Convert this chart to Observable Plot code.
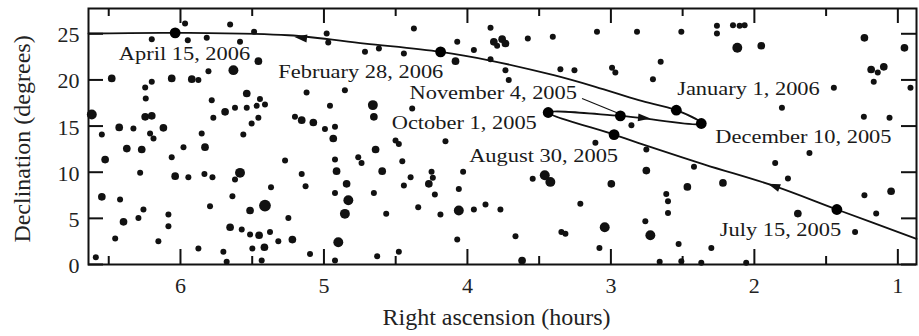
<!DOCTYPE html>
<html>
<head>
<meta charset="utf-8">
<script src="https://cdn.jsdelivr.net/npm/d3@7"></script>
<script src="https://cdn.jsdelivr.net/npm/@observablehq/plot@0.6"></script>
<style>
  html, body { margin: 0; padding: 0; background: #fff; }
</style>
</head>
<body>
<div id="chart"></div>
<script>
// ---- Mars path (right ascension in hours, declination in degrees), chronological ----
const pathRA  = [0.87, 1.425, 1.859, 2.347, 2.811, 2.978, 3.437, 2.934, 2.370, 2.544, 2.806, 3.108, 3.398, 3.850, 4.187, 4.714, 5.248, 6.037, 6.641];
const pathDec = [2.78, 5.96, 8.49, 10.83, 13.18, 14.08, 16.47, 16.11, 15.28, 16.72, 17.80, 19.25, 20.51, 22.13, 23.04, 23.94, 24.84, 25.10, 25.03];

// ---- Dated positions of Mars ----
const dateNames = ["July 15, 2005", "August 30, 2005", "October 1, 2005", "November 4, 2005",
                   "December 10, 2005", "January 1, 2006", "February 28, 2006", "April 15, 2006"];
const dateRA   = [1.425, 2.978, 3.437, 2.934, 2.370, 2.544, 4.187, 6.037];
const dateDec  = [5.96, 14.08, 16.47, 16.11, 15.28, 16.72, 23.04, 25.10];
const labelRA  = [1.818, 3.469, 4.022, 3.820, 1.658, 2.041, 4.743, 5.972];
const labelDec = [3.79, 11.81, 15.38, 18.63, 13.87, 19.01, 20.91, 22.86];

// leader line from the "November 4, 2005" label to its dot
const leaderRA  = [3.201, 2.945];
const leaderDec = [17.98, 16.36];

// direction arrows along the path
const arrowRA  = [5.155, 2.774, 1.859];
const arrowDec = [24.56, 15.89, 8.48];

// ---- Background stars: RA, Dec, brightness class (1 faint .. 4 bright) ----
const starRA = [
  6.200, 5.949, 5.817, 5.654, 5.968, 5.585, 5.487, 5.457, 5.631, 5.805, 6.479, 6.200, 6.246, 6.061, 5.921, 5.875,
  5.538, 5.446, 5.469, 5.411, 5.782, 5.689, 5.620, 5.538, 5.771, 5.504, 5.457, 6.242, 6.246, 6.200, 6.427, 6.328,
  6.212, 6.119, 6.548, 5.852, 5.121, 4.854, 4.958, 5.202, 5.155, 5.074, 4.993, 4.923, 4.981, 4.970, 4.714, 6.618,
  4.373, 3.839, 3.816, 3.758, 3.735, 3.793, 3.579, 3.405, 3.097, 2.818, 4.071, 3.955, 4.617, 4.443, 4.083, 3.839,
  3.735, 3.712, 3.352, 3.254, 2.992, 2.969, 4.659, 4.652, 4.385, 2.857,
  2.509, 2.261, 2.261, 2.149, 2.103, 2.068, 2.119, 1.952, 2.653, 2.707, 1.233, 0.954, 1.186, 1.140, 1.098, 1.168,
  1.446, 0.912, 1.808, 1.237, 1.058,
  6.188, 5.562, 4.935, 6.374, 6.270, 5.979, 5.829, 6.525, 6.061, 5.271, 4.923, 4.761, 4.738, 6.281, 6.037, 5.945,
  5.833, 5.777, 5.585, 5.620, 5.155, 4.912, 5.369, 5.128, 4.842, 6.548, 6.421, 5.638, 4.923, 5.411, 5.794, 5.515,
  4.830, 6.258, 4.854, 6.084, 6.293, 6.397, 6.084, 5.248, 5.654, 5.573, 5.515, 5.452, 5.376, 6.455, 6.154, 5.318,
  5.220, 4.900, 5.875, 5.701, 5.499, 5.415, 5.097, 6.590, 5.678, 5.434, 4.923,
  4.501, 4.478, 4.153, 4.640, 4.454, 4.594, 4.396, 4.250, 4.241, 4.443, 4.269, 4.227, 4.030, 4.060, 4.652, 3.545,
  3.461, 3.422, 3.108, 2.997, 4.566, 4.343, 4.188, 4.060, 3.955, 3.874, 3.770, 3.213, 3.043, 3.345, 3.317, 4.071,
  3.665, 3.080, 4.629, 4.478, 3.619,
  2.753, 2.753, 2.421, 2.467, 2.219, 1.855, 1.616, 1.766, 2.614, 2.602, 2.602, 1.697, 1.233, 1.047, 1.151, 2.760,
  2.725, 2.528, 2.300, 1.298, 2.660, 2.509, 2.370, 2.057
];
const starDec = [
  24.42, 24.31, 24.56, 26.01, 26.12, 24.13, 25.21, 22.03, 21.06, 20.95, 20.16, 19.79, 19.18, 20.16, 20.08, 19.98,
  18.53, 17.92, 17.19, 17.34, 17.81, 16.54, 16.98, 16.98, 15.89, 15.28, 15.89, 17.99, 16.00, 16.11, 14.85, 14.74,
  14.20, 14.81, 14.09, 14.20, 18.64, 18.89, 17.19, 16.00, 15.64, 15.39, 14.67, 14.92, 25.03, 24.06, 23.05, 16.26,
  25.57, 25.65, 24.13, 24.42, 23.95, 23.70, 24.49, 24.67, 25.21, 25.21, 24.13, 23.23, 23.41, 22.87, 22.03, 22.25,
  21.06, 19.98, 21.17, 21.06, 21.31, 20.81, 17.27, 16.00, 16.91, 15.10,
  25.21, 25.86, 25.03, 25.93, 25.86, 25.93, 23.48, 23.70, 21.96, 20.08, 24.56, 23.48, 21.13, 20.81, 21.42, 19.79,
  19.15, 19.15, 16.98, 16.00, 15.89,
  13.65, 14.08, 13.65, 12.56, 12.46, 12.71, 12.71, 11.37, 11.62, 11.26, 11.37, 11.62, 11.01, 9.93, 9.57, 9.46,
  9.82, 9.46, 9.93, 9.20, 9.82, 10.11, 8.37, 8.48, 8.74, 7.33, 7.04, 7.40, 7.76, 6.39, 6.32, 5.85,
  6.97, 5.95, 5.49, 5.41, 5.05, 4.62, 4.15, 5.05, 4.04, 3.79, 3.25, 3.17, 3.53, 2.81, 2.52, 2.52,
  2.70, 2.41, 1.73, 1.37, 1.73, 1.87, 1.15, 0.79, 0.29, 0.43, 0.43,
  13.43, 13.07, 13.36, 12.46, 11.19, 10.11, 9.46, 10.04, 9.39, 8.55, 8.74, 7.58, 10.04, 8.19, 7.76, 9.28,
  9.67, 8.95, 13.18, 8.74, 5.49, 6.21, 5.41, 5.85, 5.95, 6.50, 5.95, 6.57, 4.04, 3.53, 3.32, 2.70,
  3.07, 1.80, 0.90, 1.37, 0.43,
  12.46, 10.18, 10.58, 8.41, 8.84, 11.01, 12.09, 9.31, 7.65, 6.86, 5.59, 5.52, 7.51, 7.94, 5.52, 4.69,
  3.17, 2.23, 1.80, 3.53, 0.29, 0.36, 0.18, 0.18
];
const starClass = [
  1, 1, 1, 1, 1, 1, 1, 2, 3, 1, 2, 1, 1, 2, 2, 1,
  2, 1, 1, 1, 1, 2, 1, 1, 1, 1, 1, 1, 2, 2, 2, 1,
  1, 2, 1, 1, 1, 1, 1, 1, 2, 2, 1, 1, 1, 1, 1, 3,
  1, 1, 2, 2, 2, 1, 1, 1, 1, 1, 1, 1, 1, 1, 2, 1,
  1, 1, 1, 1, 1, 1, 3, 2, 1, 1,
  1, 1, 1, 1, 1, 1, 3, 2, 1, 1, 2, 2, 2, 1, 2, 1,
  1, 1, 1, 1, 1,
  1, 1, 2, 2, 2, 1, 2, 2, 1, 1, 1, 1, 1, 1, 2, 1,
  1, 1, 3, 1, 1, 2, 1, 1, 2, 2, 1, 1, 1, 4, 1, 2,
  3, 1, 3, 1, 1, 2, 1, 1, 2, 1, 1, 2, 1, 1, 1, 1,
  2, 3, 1, 1, 1, 2, 1, 1, 1, 1, 1,
  1, 1, 1, 2, 1, 2, 1, 1, 1, 1, 2, 1, 1, 1, 1, 1,
  3, 3, 1, 2, 1, 1, 1, 3, 1, 1, 1, 1, 3, 1, 1, 1,
  1, 1, 1, 1, 2,
  1, 2, 1, 2, 2, 1, 1, 1, 1, 1, 1, 2, 1, 2, 1, 1,
  3, 1, 1, 1, 1, 1, 1, 1
];

// ---- Axes ----
const xDomain = [6.641, 0.87];
const yDomain = [0, 27.74];
const xTicks = [1, 2, 3, 4, 5, 6];
const xMinorTicks = [1.5, 2.5, 3.5, 4.5, 5.5, 6.5];
const yTicks = [0, 5, 10, 15, 20, 25];
const xTitle = "Right ascension (hours)";
const yTitle = "Declination (degrees)";

// ---- build tables ----
const W = 919, H = 336;
const M = {top: 8, right: 3, bottom: 72, left: 88};
const innerW = W - M.left - M.right, innerH = H - M.top - M.bottom;

const path = pathRA.map((ra, i) => ({ra, dec: pathDec[i]}));
const dates = dateNames.map((name, i) => ({name, ra: dateRA[i], dec: dateDec[i], lra: labelRA[i], ldec: labelDec[i]}));
const stars = starRA.map((ra, i) => ({ra, dec: starDec[i], c: starClass[i]}));
const leader = [{x1: leaderRA[0], y1: leaderDec[0], x2: leaderRA[1], y2: leaderDec[1]}];

const starRadius = {1: 1.1, 2: 1.8, 3: 3.0, 4: 4.2};

// pixel scales used only to orient the arrowheads along the path
const sx = Plot.scale({x: {domain: xDomain, range: [M.left, W - M.right]}});
const sy = Plot.scale({y: {domain: yDomain, range: [H - M.bottom, M.top]}});
const arrows = arrowRA.map((ra, i) => {
  const px = sx.apply(ra), py = sy.apply(arrowDec[i]);
  let best = 0, bestD = Infinity;
  for (let k = 0; k < path.length - 1; k++) {
    const ax = sx.apply(path[k].ra), ay = sy.apply(path[k].dec);
    const bx = sx.apply(path[k + 1].ra), by = sy.apply(path[k + 1].dec);
    const dx = bx - ax, dy = by - ay;
    const t = Math.max(0, Math.min(1, ((px - ax) * dx + (py - ay) * dy) / (dx * dx + dy * dy)));
    const d = Math.hypot(ax + t * dx - px, ay + t * dy - py);
    if (d < bestD) { bestD = d; best = k; }
  }
  const dx = sx.apply(path[best + 1].ra) - sx.apply(path[best].ra);
  const dy = sy.apply(path[best + 1].dec) - sy.apply(path[best].dec);
  return {ra, dec: arrowDec[i], angle: Math.atan2(dx, -dy) * 180 / Math.PI};
});

const arrowHead = {
  draw(context, size) {
    const r = Math.sqrt(size / Math.PI);
    context.moveTo(0, -1.45 * r);
    context.lineTo(0.8 * r, 1.05 * r);
    context.lineTo(-0.8 * r, 1.05 * r);
    context.closePath();
  }
};

const chart = Plot.plot({
  width: W,
  height: H,
  marginTop: M.top,
  marginRight: M.right,
  marginBottom: M.bottom,
  marginLeft: M.left,
  style: {fontFamily: "'Liberation Serif', 'Times New Roman', serif", background: "#fff", color: "#111"},
  x: {domain: xDomain},
  y: {domain: yDomain},
  marks: [
    // stars
    Plot.dot(stars, {x: "ra", y: "dec", r: d => starRadius[d.c], fill: "#111", stroke: "none"}),
    // Mars path
    Plot.line(path, {x: "ra", y: "dec", curve: "catmull-rom", stroke: "#111", strokeWidth: 1.8}),
    Plot.link(leader, {x1: "x1", y1: "y1", x2: "x2", y2: "y2", stroke: "#111", strokeWidth: 1.1}),
    Plot.dot(arrows, {x: "ra", y: "dec", rotate: "angle", symbol: arrowHead, r: 5, fill: "#111", stroke: "none"}),
    Plot.dot(dates, {x: "ra", y: "dec", r: 5.4, fill: "#000", stroke: "none"}),
    Plot.text(dates, {x: "lra", y: "ldec", text: "name", fontSize: 19, fill: "#1a1a1a", textAnchor: "middle"}),
    // inward ticks
    Plot.tickX(xTicks, {x: d => d, insetTop: innerH - 15, stroke: "#111", strokeWidth: 2}),
    Plot.tickX(xTicks, {x: d => d, insetBottom: innerH - 15, stroke: "#111", strokeWidth: 2}),
    Plot.tickX(xMinorTicks, {x: d => d, insetTop: innerH - 8, stroke: "#111", strokeWidth: 2}),
    Plot.tickX(xMinorTicks, {x: d => d, insetBottom: innerH - 8, stroke: "#111", strokeWidth: 2}),
    Plot.tickY(yTicks, {y: d => d, insetRight: innerW - 15, stroke: "#111", strokeWidth: 2}),
    Plot.tickY(yTicks, {y: d => d, insetLeft: innerW - 15, stroke: "#111", strokeWidth: 2}),
    Plot.frame({stroke: "#111", strokeWidth: 2}),
    // tick labels
    Plot.axisX({anchor: "bottom", ticks: xTicks, tickFormat: d => String(d), tickSize: 0, tickPadding: 13, fontSize: 22, label: null, fill: "#222"}),
    Plot.axisY({anchor: "left", ticks: yTicks, tickFormat: d => String(d), tickSize: 0, tickPadding: 9, fontSize: 22, label: null, dy: 1.5, fill: "#222"}),
    // axis titles
    Plot.text([xTitle], {text: d => d, frameAnchor: "bottom", textAnchor: "middle", dy: 60, dx: -6, fontSize: 24, fill: "#222"}),
    Plot.text([yTitle], {text: d => d, frameAnchor: "left", textAnchor: "middle", rotate: -90, dx: -66, dy: 2.5, fontSize: 24, fill: "#222"})
  ]
});

document.getElementById("chart").append(chart);

// the reference typesets its date labels slightly wide: stretch them horizontally
const dateSet = new Set(dateNames);
chart.querySelectorAll("text").forEach(t => {
  if (!dateSet.has(t.textContent)) return;
  const w = t.getComputedTextLength();
  if (w > 0) {
    t.setAttribute("textLength", (w * 1.18).toFixed(1));
    t.setAttribute("lengthAdjust", "spacingAndGlyphs");
  }
});
</script>
</body>
</html>
